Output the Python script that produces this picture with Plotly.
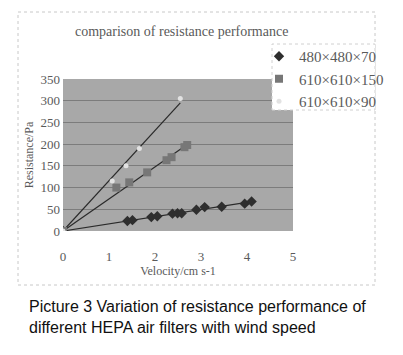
import numpy as np
import plotly.graph_objects as go

# ---- data ----
s1_name = "480×480×70"
s1_x = [0, 1.40, 1.51, 1.92, 2.05, 2.38, 2.49, 2.58, 2.90, 3.08, 3.45, 3.95, 4.10]
s1_y = [0, 23, 25, 32, 34, 40, 41, 41, 49, 55, 56, 63, 68]

s2_name = "610×610×150"
s2_x = [0, 1.16, 1.44, 1.83, 2.25, 2.36, 2.64, 2.70]
s2_y = [0, 100, 112, 135, 163, 170, 193, 198]

s3_name = "610×610×90"
s3_x = [0, 1.07, 1.37, 1.66, 2.55]
s3_y = [0, 115, 150, 190, 305]

x_ticks = [0, 1, 2, 3, 4, 5]
y_ticks = [0, 50, 100, 150, 200, 250, 300, 350]

title_text = "comparison of resistance performance"
x_title = "Velocity/cm s-1"
y_title = "Resistance/Pa"
caption = "Picture 3 Variation of resistance performance of<br>different HEPA air filters with wind speed"

W, H = 403, 355
L, R, T, B = 63, 293, 79, 231

serif = "Liberation Serif, DejaVu Serif, serif"
txt = "#5a5a5a"

fig = go.Figure()

def trend(xs, ys):
    xs = np.array(xs, float); ys = np.array(ys, float)
    k = (xs * ys).sum() / (xs * xs).sum()
    xe = xs.max()
    return [0, xe], [0, k * xe]

series = [
    (s1_name, s1_x, s1_y, "diamond", 8, "#2e2e2e"),
    (s2_name, s2_x, s2_y, "square", 8, "#777777"),
    (s3_name, s3_x, s3_y, "circle", 5, "#e2e2e2"),
]
for name, xs, ys, sym, sz, col in series:
    tx, ty = trend(xs, ys)
    fig.add_trace(go.Scatter(x=tx, y=ty, mode="lines", line=dict(color="#2a2a2a", width=1.2),
                             showlegend=False, hoverinfo="skip"))
for name, xs, ys, sym, sz, col in series:
    fig.add_trace(go.Scatter(x=xs, y=ys, mode="markers", name=name,
                             marker=dict(symbol=sym, size=sz, color=col, line=dict(width=0))))

fig.update_layout(
    width=W, height=H, margin=dict(l=0, r=0, t=0, b=0, autoexpand=False),
    paper_bgcolor="white", plot_bgcolor="#a8a8a8",
    font=dict(family=serif, size=12, color=txt),
    xaxis=dict(domain=[L / W, R / W], range=[0, 5], tickvals=x_ticks, showgrid=False,
               zeroline=False, showline=False, ticks="", ticklabelstandoff=16, automargin=False,
               tickfont=dict(size=13, family=serif, color=txt),
               title=dict(text=x_title, font=dict(size=12, family=serif, color=txt), standoff=0)),
    yaxis=dict(domain=[1 - B / H, 1 - T / H], range=[0, 350], tickvals=y_ticks, showgrid=True,
               gridcolor="#7c7c7c", gridwidth=1, zeroline=False, showline=False, ticks="",
               automargin=False,
               ticklabelstandoff=2, tickfont=dict(size=13, family=serif, color=txt),
               title=dict(text=y_title, font=dict(size=12, family=serif, color=txt), standoff=4)),
    legend=dict(x=259 / W, y=1 - 40 / H, xanchor="left", yanchor="top",
                bgcolor="rgba(0,0,0,0)", borderwidth=0,
                font=dict(size=15, family=serif, color=txt), tracegroupgap=0,
                itemwidth=30),
    showlegend=True,
)

fig.add_annotation(text=title_text, x=181 / W, y=1 - 32 / H, xref="paper", yref="paper",
                   yanchor="middle", showarrow=False, font=dict(size=14, family=serif, color=txt))
fig.add_annotation(text=caption, x=27 / W, y=1 - 296 / H, xref="paper", yref="paper",
                   xanchor="left", yanchor="top", align="left", showarrow=False,
                   font=dict(size=16, family="Liberation Sans, Arial, sans-serif", color="#111111"))
fig.add_shape(type="rect", xref="paper", yref="paper",
              x0=18 / W, x1=375 / W, y0=1 - 285 / H, y1=1 - 12 / H,
              line=dict(color="#c8c8c8", width=1, dash="dot"), layer="below")
fig.add_shape(type="rect", xref="paper", yref="paper",
              x0=272 / W, x1=375 / W, y0=1 - 110 / H, y1=1 - 44 / H,
              fillcolor="white", line=dict(color="#d0d0d0", width=1, dash="dot"), layer="above")

fig.write_html("out.html")
